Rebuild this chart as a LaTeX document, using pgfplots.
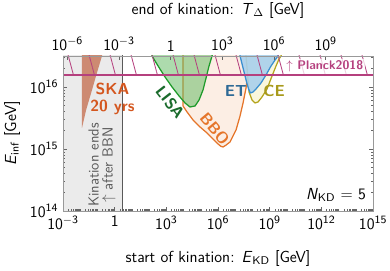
\documentclass[border=0pt]{standalone}
\usepackage{pgfplots}
\pgfplotsset{compat=1.18}
\usetikzlibrary{patterns.meta}
\renewcommand{\familydefault}{\sfdefault}
\definecolor{planck}{HTML}{B5407E}
\definecolor{skafill}{HTML}{CD8A72}
\definecolor{skatext}{HTML}{D4561E}
\definecolor{lisaline}{HTML}{1E9A2A}
\definecolor{lisatext}{HTML}{1A6B2C}
\definecolor{lisafill}{HTML}{5CB85C}
\definecolor{bboline}{HTML}{E5752A}
\definecolor{bbofill}{HTML}{FCEEE4}
\definecolor{etline}{HTML}{3A8FD0}
\definecolor{etfill}{HTML}{A9D0EC}
\definecolor{ettext}{HTML}{2E6A96}
\definecolor{celine}{HTML}{B4A41C}
\definecolor{cefill}{HTML}{FAF7DC}
\definecolor{cetext}{HTML}{A89A1C}
\definecolor{bggray}{HTML}{EBEBEB}
\newcommand{\bigf}{\fontsize{11.5}{12}\selectfont}
\def\xminorlist{-3}
\foreach \n in {-3,...,14}{\foreach \k in {0.30103,0.47712,0.60206,0.69897,0.77815,0.84510,0.90309,0.95424,1}{\pgfmathsetmacro\v{\n+\k}\xdef\xminorlist{\xminorlist,\v}}}
\def\yminorlist{14}
\foreach \n in {14,15,16}{\foreach \k in {0.30103,0.47712,0.60206,0.69897,0.77815,0.84510,0.90309,0.95424}{\pgfmathsetmacro\v{\n+\k}\xdef\yminorlist{\yminorlist,\v}}}
\begin{document}
\begin{tikzpicture}
\begin{axis}[name=main, scale only axis, width=223.2pt, height=111.6pt,
  xmin=-3, xmax=15, ymin=14, ymax=16.5,
  xtick={-3,0,3,6,9,12,15},
  xticklabels={10\textsuperscript{$-$3},1,10\textsuperscript{3},10\textsuperscript{6},10\textsuperscript{9},10\textsuperscript{12},10\textsuperscript{15}},
  ytick={14,15,16},
  yticklabels={10\textsuperscript{14},10\textsuperscript{15},10\textsuperscript{16}},
  minor xtick/.expanded={\xminorlist},
  minor ytick/.expanded={\yminorlist},
  xtick pos=bottom, ytick pos=both,
  tick align=inside,
  major tick length=3pt, minor tick length=1.6pt,
  axis line style={black!40},
  tick style={black!60, line width=0.4pt},
  every tick label/.append style={font=\bigf},
  axis on top,
  xlabel={start of kination: \textit{E}\textsubscript{KD} [GeV]},
  ylabel={\textit{E}\textsubscript{inf} [GeV]},
  xlabel style={font=\bigf, at={(axis description cs:0.5,-0.305)}, anchor=center},
  ylabel style={font=\bigf, at={(axis description cs:-0.164,0.5)}, anchor=center},
]
% excluded: kination ends after BBN
\addplot[draw=none, fill=bggray] coordinates {(-3,14) (0.43,14) (0.43,16.6) (-3,16.6)} -- cycle;
\addplot[black!65, line width=0.9pt] coordinates {(0.43,14) (0.43,16.6)};
% SKA
\addplot[draw=none, fill=skafill] coordinates {(-1.90,16.6) (-1.90,15.34) (-1.66,15.63) (-1.32,15.95) (-1.03,16.23) (-0.74,16.5) (-0.70,16.6)} -- cycle;
% BBO
\addplot[bboline, line width=0.9pt, fill=bbofill, line join=round] coordinates {(3.967,16.6) (3.967,15.694) (4.199,15.597) (4.548,15.468) (4.954,15.355) (5.360,15.258) (5.709,15.161) (5.999,15.081) (6.150,15.045) (6.290,15.032) (6.45,15.06) (6.696,15.113) (7.044,15.306) (7.277,15.532) (7.451,15.742) (7.625,15.984) (7.741,16.242) (7.857,16.5) (7.90,16.6)} -- cycle;
% LISA
\addplot[lisaline, line width=0.9pt, fill=lisafill, fill opacity=0.5, line join=round] coordinates {(2.11,16.6) (2.167,16.5) (2.516,16.339) (2.922,16.161) (3.329,16.0) (3.735,15.855) (4.083,15.742) (4.374,15.677) (4.664,15.694) (4.896,15.790) (5.128,15.952) (5.303,16.145) (5.477,16.339) (5.651,16.5) (5.72,16.6)} -- cycle;
% CE
\addplot[celine, line width=0.9pt, fill=cefill, line join=round] coordinates {(7.56,16.6) (7.625,16.5) (7.799,15.919) (7.973,15.790) (8.148,15.742) (8.322,15.758) (8.554,15.839) (8.844,15.968) (9.134,16.177) (9.367,16.339) (9.541,16.452) (9.657,16.5) (9.72,16.6)} -- cycle;
% ET
\addplot[etline, line width=0.9pt, fill=etfill, fill opacity=0.9, line join=round] coordinates {(7.24,16.6) (7.277,16.5) (7.451,16.306) (7.625,16.113) (7.770,15.968) (7.886,15.903) (8.031,15.919) (8.206,15.968) (8.496,16.065) (8.786,16.194) (9.076,16.339) (9.309,16.435) (9.483,16.5) (9.53,16.6)} -- cycle;
% Planck 2018
\addplot[draw=none, pattern={Lines[angle=105, distance=14.6pt, line width=0.6pt]}, pattern color=planck] coordinates {(-3,16.19) (15,16.19) (15,16.6) (-3,16.6)} -- cycle;
\addplot[planck, line width=1.1pt] coordinates {(-3,16.19) (15,16.19)};
\node[fill=white, fill opacity=0.75, text opacity=1, text=planck, font=\small\bfseries, inner sep=1.5pt] at (axis cs:12.2,16.33) {$\uparrow$ Planck2018};
% labels
\node[text=skatext, font=\bigf\bfseries, align=center, inner sep=0pt] at (axis cs:-0.13,15.81) {SKA\\20 yrs};
\node[text=lisatext, font=\bigf\bfseries, rotate=-52, inner sep=0pt] at (axis cs:3.21,15.75) {LISA};
\node[text=bboline, font=\bigf\bfseries, rotate=-50, inner sep=0pt] at (axis cs:5.80,15.33) {BBO};
\node[text=ettext, font=\bigf\bfseries, inner sep=0pt] at (axis cs:7.04,15.935) {ET};
\node[text=cetext, font=\bigf\bfseries, inner sep=0pt] at (axis cs:9.25,15.935) {CE};
\node[rotate=90, text=black!65, align=center, font=\fontsize{10.5}{10}\selectfont, inner sep=0pt] at (axis cs:-0.74,14.74) {Kination ends\\$\uparrow$ after BBN};
\node[fill=white, inner sep=2pt, anchor=center, font=\bigf] at (axis cs:12.85,14.258) {\textit{N}\textsubscript{KD} = 5};
\end{axis}
\begin{axis}[scale only axis, width=223.2pt, height=111.6pt,
  xmin=-6.25, xmax=11.75, ymin=14, ymax=16.5,
  axis x line*=top, axis y line=none,
  xtick={-6,-3,0,3,6,9},
  xticklabels={10\textsuperscript{$-$6},10\textsuperscript{$-$3},1,10\textsuperscript{3},10\textsuperscript{6},10\textsuperscript{9}},
  tick align=inside, major tick length=3pt,
  axis line style={black!40},
  tick style={black!60, line width=0.4pt},
  every tick label/.append style={font=\bigf},
  xlabel={end of kination: \textit{T}\textsubscript{$\Delta$} [GeV]},
  xlabel style={font=\bigf, at={(axis description cs:0.5,1.296)}, anchor=center},
]
\end{axis}
\pgfresetboundingbox
\path ([shift={(-45.4pt,-43.2pt)}]main.south west) rectangle ([shift={(12.2pt,40.3pt)}]main.north east);
\end{tikzpicture}
\end{document}
